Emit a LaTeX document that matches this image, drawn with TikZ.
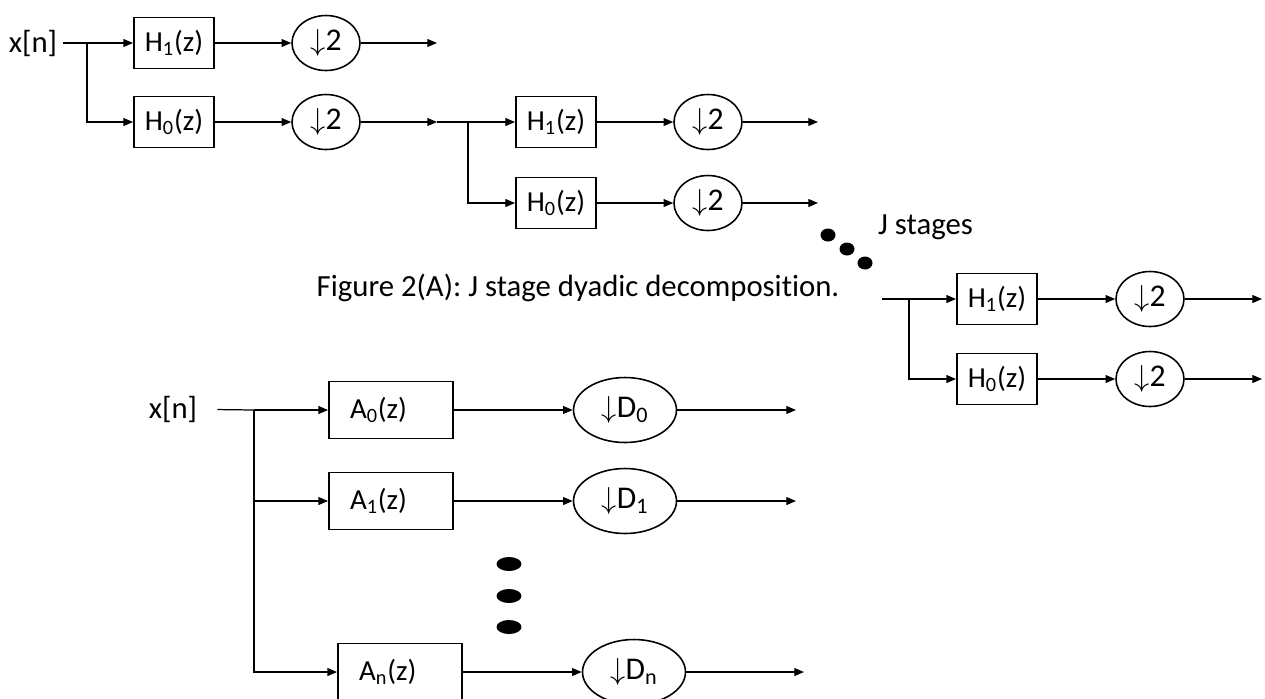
\documentclass[tikz,border=0pt]{standalone}
\usepackage{fontspec}
\setmainfont[Ligatures=NoCommon]{Carlito}
\usetikzlibrary{shapes.geometric, arrows.meta, positioning}

\tikzset{
  blk/.style={draw, line width=1.1pt, minimum width=1.6cm, minimum height=1.02cm, inner sep=0pt, font=\fontsize{16.5}{19}\selectfont},
  wideblk/.style={blk, text width=1.64cm, inner xsep=0.42cm, minimum height=1.14cm, align=left},
  dwn/.style={draw, ellipse, line width=0.9pt, minimum width=1.36cm, minimum height=1.1cm, inner sep=0pt, font=\fontsize{18}{20}\selectfont},
  widedwn/.style={dwn, minimum width=2.06cm, minimum height=1.3cm},
  sig/.style={line width=0.7pt, -{Triangle[length=5.5pt,width=4.5pt]}},
  wire/.style={line width=0.7pt},
  txt/.style={font=\fontsize{17.5}{20}\selectfont},
  blob/.style={fill=black}
}

\begin{document}
\begin{tikzpicture}[x=0.02cm, y=-0.02cm]
    \useasboundingbox (0,0) rectangle (1265,698);
    % stage 1
    \node[txt] (x1) at (33,43) {x[n]};
    \node[blk] (h11) at (174,43) {H\textsubscript{1}(z)};
    \node[blk] (h10) at (174,122) {H\textsubscript{0}(z)};
    \node[dwn] (d11) at (326,43) {$\downarrow$2};
    \node[dwn] (d10) at (326,122) {$\downarrow$2};
    \coordinate (b1) at (87,43);
    \coordinate (o11) at (437,43);
    \coordinate (o10) at (437,122);
    \draw[wire] (x1) -- (b1);
    \draw[sig] (b1) -- (h11);
    \draw[sig] (b1) |- (h10);
    \draw[sig] (h11) -- (d11);
    \draw[sig] (h10) -- (d10);
    \draw[sig] (d11) -- (o11);
    \draw[sig] (d10) -- (o10);
    % stage 2
    \node[blk] (h21) at (556,122) {H\textsubscript{1}(z)};
    \node[blk] (h20) at (556,203) {H\textsubscript{0}(z)};
    \node[dwn] (d21) at (708,122) {$\downarrow$2};
    \node[dwn] (d20) at (708,203) {$\downarrow$2};
    \coordinate (b2) at (468,122);
    \coordinate (o21) at (818,122);
    \coordinate (o20) at (818,203);
    \draw[wire] (o10) -- (b2);
    \draw[sig] (b2) -- (h21);
    \draw[sig] (b2) |- (h20);
    \draw[sig] (h21) -- (d21);
    \draw[sig] (h20) -- (d20);
    \draw[sig] (d21) -- (o21);
    \draw[sig] (d20) -- (o20);
    % dots + J stages
    \fill[blob] (828,235) ellipse [x radius=7.5, y radius=6.5];
    \fill[blob] (847,249) ellipse [x radius=7.5, y radius=6.5];
    \fill[blob] (865,263) ellipse [x radius=7.5, y radius=6.5];
    \node[txt, anchor=west] (js) at (872,227) {J stages};
    % stage J
    \node[blk] (hj1) at (997,299) {H\textsubscript{1}(z)};
    \node[blk] (hj0) at (997,379) {H\textsubscript{0}(z)};
    \node[dwn] (dj1) at (1150,299) {$\downarrow$2};
    \node[dwn] (dj0) at (1150,379) {$\downarrow$2};
    \coordinate (sj) at (882,299);
    \coordinate (bj) at (909,299);
    \coordinate (oj1) at (1262,299);
    \coordinate (oj0) at (1262,379);
    \draw[wire] (sj) -- (bj);
    \draw[sig] (bj) -- (hj1);
    \draw[sig] (bj) |- (hj0);
    \draw[sig] (hj1) -- (dj1);
    \draw[sig] (hj0) -- (dj0);
    \draw[sig] (dj1) -- (oj1);
    \draw[sig] (dj0) -- (oj0);
    % caption
    \node[txt] (cap) at (578,288) {Figure 2(A): J stage dyadic decomposition.};
    % general bank
    \node[txt] (x4) at (173,409) {x[n]};
    \node[wideblk] (a0) at (391,410) {A\textsubscript{0}(z)};
    \node[wideblk] (a1) at (391,501) {A\textsubscript{1}(z)};
    \node[wideblk] (an) at (400,672) {A\textsubscript{n}(z)};
    \node[widedwn] (e0) at (625,410) {$\downarrow$D\textsubscript{0}};
    \node[widedwn] (e1) at (625,501) {$\downarrow$D\textsubscript{1}};
    \node[widedwn] (en) at (634,672) {$\downarrow$D\textsubscript{n}};
    \coordinate (b4) at (254,410);
    \coordinate (p0) at (796,410);
    \coordinate (p1) at (796,501);
    \coordinate (pn) at (804,672);
    \draw[wire, shorten <=8pt] (x4) -- (b4);
    \draw[sig] (b4) -- (a0);
    \draw[sig] (b4) |- (a1);
    \draw[sig] (b4) |- (an);
    \draw[sig] (a0) -- (e0);
    \draw[sig] (a1) -- (e1);
    \draw[sig] (an) -- (en);
    \draw[sig] (e0) -- (p0);
    \draw[sig] (e1) -- (p1);
    \draw[sig] (en) -- (pn);
    % vertical dots
    \fill[blob] (509,564) ellipse [x radius=12.5, y radius=7];
    \fill[blob] (509,596) ellipse [x radius=12.5, y radius=7];
    \fill[blob] (509,627) ellipse [x radius=12.5, y radius=7];
\end{tikzpicture}
\end{document}
